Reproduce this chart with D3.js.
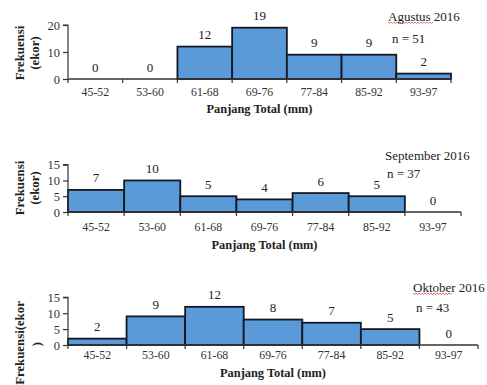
<!DOCTYPE html>
<html><head><meta charset="utf-8">
<script src="https://cdn.jsdelivr.net/npm/d3@7"></script>
<style>body{margin:0;background:#fff}svg{display:block}</style>
</head><body>
<script>
const categories = ["45-52","53-60","61-68","69-76","77-84","85-92","93-97"];
const augustValues = [0,0,12,19,9,9,2];
const septemberValues = [7,10,5,4,6,5,0];
const octoberValues = [2,9,12,8,7,5,0];
const augustTicks = [0,10,20];
const septemberTicks = [0,5,10,15];
const octoberTicks = [0,5,10,15];
const monthLabels = ["Agustus 2016","September 2016","Oktober 2016"];
const nLabels = ["n = 51","n = 37","n = 43"];
const xTitle = "Panjang Total (mm)";

const W = 487, H = 385;
const FONT = '"Liberation Serif","Times New Roman",Tinos,serif';
const svg = d3.select("body").append("svg").attr("width", W).attr("height", H);

const panels = [
  {values: augustValues, ticks: augustTicks, yMax: 20, x0: 68, x1: 451, base: 79, top: 25,
   tickY: 92, titleY: 109, ylab: ["Frekuensi","(ekor)"], ylabY: 53,
   month: monthLabels[0], n: nLabels[0], mx: 388, my: 16, nx: 392, ny: 38, squiggle: [388, 431]},
  {values: septemberValues, ticks: septemberTicks, yMax: 15, x0: 68, x1: 461, base: 212, top: 164.7,
   tickY: 227, titleY: 245, ylab: ["Frekuensi","(ekor)"], ylabY: 188,
   month: monthLabels[1], n: nLabels[1], mx: 385, my: 155, nx: 387, ny: 173, squiggle: null},
  {values: octoberValues, ticks: octoberTicks, yMax: 15, x0: 68, x1: 478, base: 345, top: 297.3,
   tickY: 355, titleY: 373, ylab: null, ylabY: 343,
   month: monthLabels[2], n: nLabels[2], mx: 413, my: 287, nx: 416, ny: 307, squiggle: [413, 451]}
];

function txt(sel, size, weight) {
  return sel.style("font-family", FONT).style("font-size", size + "px")
    .style("font-weight", weight || "normal");
}

panels.forEach(p => {
  const g = svg.append("g");
  const x = d3.scaleBand().domain(categories).range([p.x0, p.x1]).padding(0);
  const y = d3.scaleLinear().domain([0, p.yMax]).range([p.base, p.top]);
  const rows = p.values.map((v,i)=>({v, c: categories[i]}));

  g.selectAll("rect.bar").data(rows.filter(d=>d.v>0))
    .join("rect").attr("class","bar")
    .attr("x", d => x(d.c)).attr("width", x.bandwidth())
    .attr("y", d => y(d.v)).attr("height", d => y(0) - y(d.v))
    .attr("fill", "#5a9ad8").attr("stroke", "#141824").attr("stroke-width", 1.8);

  txt(g.selectAll("text.val").data(rows)
    .join("text").attr("class","val")
    .attr("x", d => x(d.c) + x.bandwidth()/2)
    .attr("y", d => y(d.v) - 12)
    .attr("text-anchor","middle").attr("dominant-baseline","central")
    .attr("fill","#222"), 13)
    .text(d => d.v);

  const yAxis = d3.axisLeft(y).tickValues(p.ticks).tickSize(5).tickPadding(3);
  const ya = g.append("g").attr("transform", `translate(${p.x0},0)`).call(yAxis);
  ya.select(".domain").attr("stroke","#333").attr("stroke-width",1.2).attr("d", `M-5,${p.top}H0V${p.base}`);
  ya.selectAll(".tick line").attr("stroke","#333").attr("stroke-width",1.2);
  txt(ya.selectAll(".tick text").attr("fill","#333"), 12.5);

  const xa = g.append("g");
  xa.append("line").attr("x1", p.x0).attr("x2", p.x1).attr("y1", p.base).attr("y2", p.base)
    .attr("stroke","#333").attr("stroke-width",1.4);
  const bounds = categories.map(c => x(c)).concat([p.x1]);
  xa.selectAll("line.tk").data(bounds).join("line").attr("class","tk")
    .attr("x1", d=>d).attr("x2", d=>d).attr("y1", p.base).attr("y2", p.base+4)
    .attr("stroke","#333").attr("stroke-width",1.2);
  txt(xa.selectAll("text.cat").data(categories).join("text").attr("class","cat")
    .attr("x", d => x(d) + x.bandwidth()/2).attr("y", p.tickY)
    .attr("text-anchor","middle").attr("dominant-baseline","central")
    .attr("fill","#333"), 11.8)
    .text(d => d);

  txt(g.append("text").attr("x", (p.x0 + p.x1)/2).attr("y", p.titleY)
    .attr("text-anchor","middle").attr("dominant-baseline","central")
    .attr("fill","#222"), 12.4, "bold")
    .text(xTitle);

  if (p.ylab) {
    [20, 35].forEach((xx, i) => {
      txt(g.append("text").attr("transform", `translate(${xx},${p.ylabY}) rotate(-90)`)
        .attr("text-anchor","middle").attr("dominant-baseline","central")
        .attr("fill","#222"), 12.8, "bold")
        .text(p.ylab[i]);
    });
  } else {
    txt(g.append("text").attr("transform", `translate(20,${p.ylabY}) rotate(-90)`)
      .attr("text-anchor","middle").attr("dominant-baseline","central")
      .attr("fill","#222"), 12.8, "bold")
      .text("Frekuensi(ekor");
    txt(g.append("text").attr("transform", `translate(37,${p.base - 1}) rotate(-90)`)
      .attr("text-anchor","middle").attr("dominant-baseline","central")
      .attr("fill","#222"), 12.8, "bold")
      .text(")");
  }

  txt(g.append("text").attr("x", p.mx).attr("y", p.my).attr("dominant-baseline","central")
    .attr("fill","#222"), 13).text(p.month);
  txt(g.append("text").attr("x", p.nx).attr("y", p.ny).attr("dominant-baseline","central")
    .attr("fill","#222"), 13).text(p.n);
  if (p.squiggle) {
    const [sx0, sx1] = p.squiggle;
    let d = `M${sx0},${p.my+6}`;
    for (let xx = sx0; xx < sx1; xx += 3) d += `L${xx+1.5},${p.my+7.5}L${xx+3},${p.my+6}`;
    g.append("path").attr("d", d).attr("fill","none").attr("stroke","#d33").attr("stroke-width",0.7);
  }
});
</script>
</body></html>
